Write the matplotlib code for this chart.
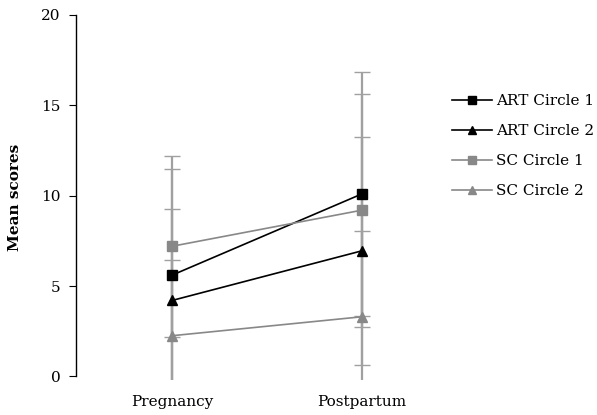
import matplotlib.pyplot as plt
import numpy as np

# data
time_points = ['Pregnancy', 'Postpartum']
series_names = ['ART Circle 1', 'ART Circle 2', 'SC Circle 1', 'SC Circle 2']
art1_means = [5.6, 10.1]
art2_means = [4.2, 6.95]
sc1_means = [7.2, 9.2]
sc2_means = [2.25, 3.3]
art1_err = [5.9, 6.75]
art2_err = [5.05, 6.3]
sc1_err = [5.0, 6.44]
sc2_err = [4.2, 4.73]

plt.rcParams['font.family'] = ['DejaVu Serif']

fig = plt.figure(figsize=(5.97, 4.15), dpi=100)
ax = fig.add_axes([76 / 597, 35 / 415, 400 / 597, 365 / 415])

x = np.arange(len(time_points))
means = [art1_means, art2_means, sc1_means, sc2_means]
errs = [art1_err, art2_err, sc1_err, sc2_err]
colors = ['black', 'black', '#888888', '#888888']
markers = ['s', '^', 's', '^']

# error bars first, all in gray, behind the lines
for m, e in zip(means, errs):
    ax.errorbar(x, m, yerr=e, fmt='none', ecolor='#a0a0a0', elinewidth=1.6,
                capsize=6, capthick=1.0, zorder=1)

for name, m, c, mk in zip(series_names, means, colors, markers):
    ax.plot(x, m, color=c, marker=mk, markersize=6.5, linewidth=1.2,
            label=name, zorder=3)

ax.set_xlim(-0.505, 1.6)
ax.set_ylim(-0.2, 20)
ax.set_yticks([0, 5, 10, 15, 20])
ax.set_xticks(x)
ax.set_xticklabels(time_points, fontsize=11)
ax.tick_params(axis='x', length=0, pad=11)
ax.tick_params(axis='y', labelsize=11, length=5, direction='out', pad=6)

for s in ['top', 'right', 'bottom']:
    ax.spines[s].set_visible(False)
ax.spines['left'].set_bounds(0, 20)
ax.spines['left'].set_linewidth(1.0)

ax.set_ylabel('Mean scores', fontsize=11, fontweight='bold', labelpad=14)

ax.legend(loc='upper left', bbox_to_anchor=(446 / 597, 1 - 88 / 415),
          bbox_transform=fig.transFigure, frameon=False, fontsize=11,
          handlelength=2.6, handletextpad=0.3, labelspacing=1.05,
          markerscale=0.9, borderaxespad=0)

fig.savefig('out.png', dpi=100)
